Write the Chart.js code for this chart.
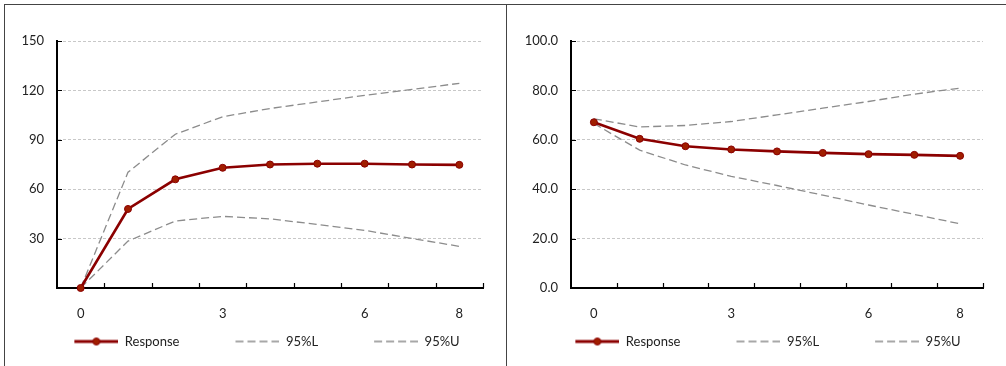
<!DOCTYPE html>
<html>
<head>
<meta charset="utf-8">
<script src="https://cdn.jsdelivr.net/npm/chart.js@4.4.1/dist/chart.umd.min.js"></script>
<style>
  html, body { margin: 0; padding: 0; background: #fff; }
  body { width: 1006px; height: 366px; position: relative; overflow: hidden; }
  .panel { position: absolute; top: 4px; height: 362px; border-left: 1px solid #444; border-top: 1px solid #444; }
  #p1 { left: 4px; width: 501px; }
  #p2 { left: 506px; width: 500px; }
  canvas { display: block; }
</style>
</head>
<body>
<div class="panel" id="p1"><canvas id="left"></canvas></div>
<div class="panel" id="p2"><canvas id="right"></canvas></div>
<script>
// x categories and which ones get a label
const categories = ['0', '1', '2', '3', '4', '5', '6', '7', '8'];
const shownLabels = ['0', '3', '6', '8'];
const seriesNames = ['Response', '95%L', '95%U'];

// left chart
const leftResponse = [0, 48, 66, 73, 75, 75.5, 75.5, 75, 74.8];
const leftLower = [0, 28.5, 40.7, 43.5, 42, 38.6, 35, 30.1, 25.3];
const leftUpper = [0, 70.3, 93.4, 104, 109, 113, 117, 120.6, 124.3];
const leftAxis = { min: 0, max: 150, step: 30, decimals: 0, hideZero: true };

// right chart
const rightResponse = [67.1, 60.4, 57.4, 56.1, 55.3, 54.7, 54.2, 53.9, 53.5];
const rightLower = [66.6, 55.8, 49.8, 45.2, 41.5, 37.6, 33.6, 29.8, 26.0];
const rightUpper = [68.5, 65.2, 65.8, 67.4, 70.1, 72.8, 75.5, 78.5, 80.9];
const rightAxis = { min: 0, max: 100, step: 20, decimals: 1, hideZero: false };

const RED = '#8b0000';
const MARKER = '#a01e00';
const GREY = '#8c8c8c';
const FONT = { family: 'Lato, "Open Sans", sans-serif', size: 13 };
const LEG_GAP = 44;

// legend swatches as small canvases (line with marker / dashed line)
function swatch(kind) {
    const c = document.createElement('canvas');
    c.width = LEG_GAP + 46;
    c.height = 10;
    const g = c.getContext('2d');
    g.beginPath();
    g.moveTo(LEG_GAP + 2, 5);
    g.lineTo(LEG_GAP + 46, 5);
    if (kind === 'solid') {
        g.strokeStyle = RED;
        g.lineWidth = 3;
        g.stroke();
        g.beginPath();
        g.arc(LEG_GAP + 24, 5, 3.5, 0, Math.PI * 2);
        g.fillStyle = MARKER;
        g.fill();
        g.lineWidth = 1;
        g.strokeStyle = RED;
        g.stroke();
    } else {
        g.setLineDash([8, 4]);
        g.strokeStyle = GREY;
        g.lineWidth = 1.3;
        g.stroke();
    }
    return c;
}
const swatches = [swatch('solid'), swatch('dash'), swatch('dash')];

// tick marks pointing into the plot, like the original
const innerTicks = {
    id: 'innerTicks',
    afterDatasetsDraw(chart) {
        const ctx = chart.ctx;
        const xs = chart.scales.x;
        const ys = chart.scales.y;
        const area = chart.chartArea;
        const step = xs.getPixelForValue(1) - xs.getPixelForValue(0);
        ctx.save();
        ctx.strokeStyle = '#000';
        ctx.lineWidth = 1.2;
        ctx.beginPath();
        for (let i = 0; i < categories.length; i++) {
            const px = Math.round(xs.getPixelForValue(i) + step / 2) + 0.5;
            ctx.moveTo(px, area.bottom);
            ctx.lineTo(px, area.bottom - 5);
        }
        ys.ticks.forEach(t => {
            const py = Math.round(ys.getPixelForValue(t.value)) + 0.5;
            ctx.moveTo(area.left, py);
            ctx.lineTo(area.left + 5, py);
        });
        ctx.stroke();
        ctx.restore();
    }
};

function makeChart(id, resp, lower, upper, axis, yWidth) {
    const ctx = document.getElementById(id);
    return new Chart(ctx, {
        type: 'line',
        data: {
            labels: categories,
            datasets: [
                {
                    label: seriesNames[0],
                    data: resp,
                    borderColor: RED,
                    borderWidth: 2.6,
                    pointRadius: 3.5,
                    pointBackgroundColor: MARKER,
                    pointBorderColor: RED,
                    pointBorderWidth: 1,
                    tension: 0,
                    clip: false,
                    order: 0
                },
                {
                    label: seriesNames[1],
                    data: lower,
                    borderColor: GREY,
                    borderWidth: 1.3,
                    borderDash: [8, 4],
                    pointRadius: 0,
                    tension: 0,
                    clip: false,
                    order: 1
                },
                {
                    label: seriesNames[2],
                    data: upper,
                    borderColor: GREY,
                    borderWidth: 1.3,
                    borderDash: [8, 4],
                    pointRadius: 0,
                    tension: 0,
                    clip: false,
                    order: 2
                }
            ]
        },
        options: {
            responsive: false,
            animation: false,
            layout: { padding: { left: 0, right: 23, top: 36, bottom: 8 } },
            plugins: {
                tooltip: { enabled: false },
                legend: {
                    position: 'bottom',
                    labels: {
                        usePointStyle: true,
                        pointStyleWidth: LEG_GAP + 46,
                        padding: 10,
                        color: '#222',
                        font: FONT,
                        generateLabels(chart) {
                            const items = Chart.defaults.plugins.legend.labels.generateLabels(chart);
                            items.forEach((it, i) => { it.pointStyle = swatches[i]; });
                            return items;
                        }
                    }
                }
            },
            scales: {
                x: {
                    offset: true,
                    grid: { display: false, offset: true },
                    border: { display: true, color: '#000', width: 2 },
                    ticks: {
                        autoSkip: false,
                        maxRotation: 0,
                        padding: 10,
                        color: '#222',
                        font: FONT,
                        callback(v) {
                            const lab = categories[v];
                            return shownLabels.includes(lab) ? lab : '';
                        }
                    },
                    afterFit(s) { s.height = 37; }
                },
                y: {
                    min: axis.min,
                    max: axis.max,
                    grid: { color: '#c8c8c8', drawTicks: false },
                    border: { display: true, color: '#000', width: 2, dash: [3, 2] },
                    ticks: {
                        stepSize: axis.step,
                        padding: 13,
                        color: '#222',
                        font: FONT,
                        callback(v) {
                            if (axis.hideZero && v === 0) return '';
                            return v.toFixed(axis.decimals);
                        }
                    },
                    afterFit(s) { s.width = yWidth; }
                }
            }
        },
        plugins: [innerTicks]
    });
}

document.getElementById('left').width = 501;
document.getElementById('left').height = 361;
document.getElementById('right').width = 499;
document.getElementById('right').height = 361;

makeChart('left', leftResponse, leftLower, leftUpper, leftAxis, 52);
makeChart('right', rightResponse, rightLower, rightUpper, rightAxis, 64);
</script>
</body>
</html>
